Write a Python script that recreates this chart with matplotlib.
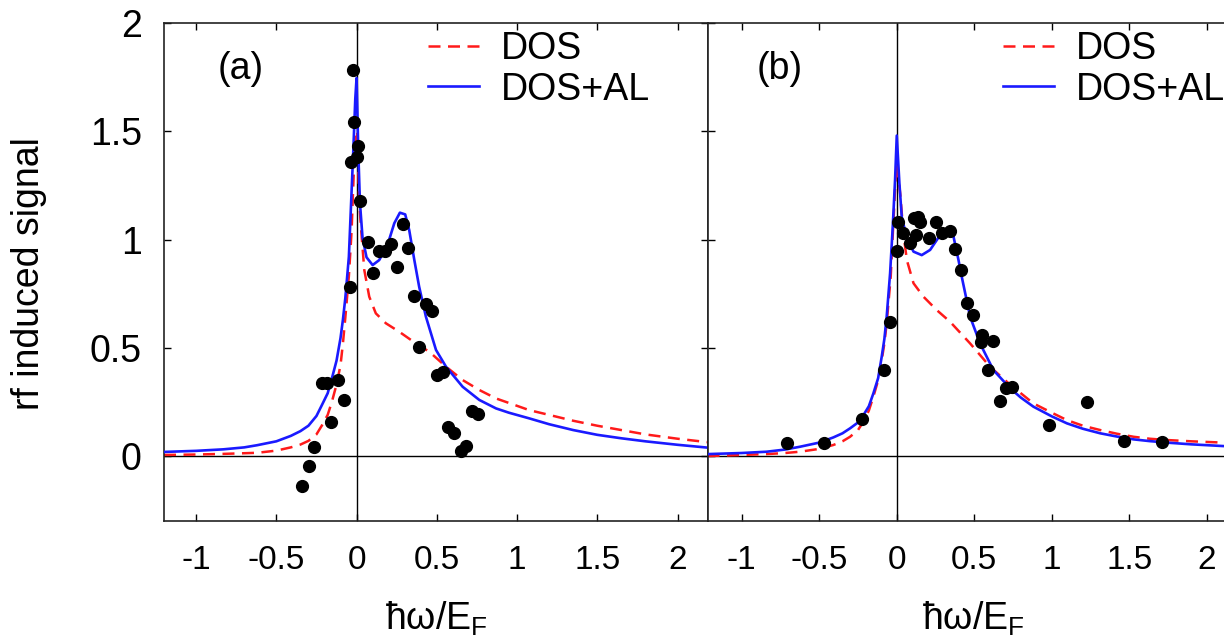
import matplotlib
matplotlib.use("Agg")
import matplotlib.pyplot as plt

plt.rcParams['font.family'] = ['Liberation Sans', 'DejaVu Sans']
plt.rcParams['mathtext.fontset'] = 'custom'
plt.rcParams['mathtext.rm'] = 'Liberation Sans'
plt.rcParams['mathtext.it'] = 'Liberation Sans:italic'

# panel (a): measured rf signal
a_exp_x = [-0.339, -0.297, -0.265, -0.217, -0.185, -0.158, -0.116, -0.080, -0.044, -0.034,
           -0.021, -0.013, 0.0, 0.011, 0.023, 0.069, 0.100, 0.141, 0.179, 0.214, 0.249,
           0.287, 0.322, 0.355, 0.391, 0.432, 0.468, 0.499, 0.536, 0.571, 0.609, 0.650,
           0.682, 0.719, 0.754]
a_exp_y = [-0.137, -0.047, 0.044, 0.338, 0.338, 0.159, 0.351, 0.257, 0.783, 1.358,
           1.782, 1.542, 1.381, 1.433, 1.178, 0.987, 0.847, 0.948, 0.948, 0.979, 0.871,
           1.070, 0.962, 0.741, 0.505, 0.702, 0.671, 0.374, 0.390, 0.135, 0.105, 0.023,
           0.046, 0.209, 0.194]

# panel (a): theory curves
a_al_x = [-1.2, -1.0, -0.83, -0.7, -0.62, -0.5, -0.41, -0.35, -0.30, -0.25, -0.217, -0.18,
          -0.154, -0.125, -0.10, -0.085, -0.07, -0.048, -0.034, -0.021, -0.008, 0.0,
          0.011, 0.021, 0.037, 0.062, 0.10, 0.141, 0.193, 0.235, 0.27, 0.303, 0.328,
          0.36, 0.39, 0.432, 0.495, 0.557, 0.661, 0.765, 0.869, 0.95, 1.076, 1.2, 1.35,
          1.5, 1.65, 1.8, 2.0, 2.2]
a_al_y = [0.019, 0.024, 0.031, 0.040, 0.050, 0.068, 0.093, 0.115, 0.140, 0.185, 0.234, 0.29,
          0.358, 0.44, 0.545, 0.63, 0.73, 0.92, 1.17, 1.40, 1.65, 1.746,
          1.40, 1.17, 1.01, 0.918, 0.882, 0.905, 0.975, 1.075, 1.124, 1.116, 1.044,
          0.905, 0.782, 0.644, 0.49, 0.413, 0.32, 0.259, 0.22, 0.20, 0.174, 0.147, 0.12,
          0.098, 0.082, 0.068, 0.052, 0.038]
a_dos_x = [-1.2, -1.0, -0.83, -0.7, -0.62, -0.5, -0.41, -0.35, -0.30, -0.25, -0.217, -0.18,
           -0.154, -0.125, -0.10, -0.085, -0.07, -0.048, -0.031, -0.017, -0.006, 0.004,
           0.017, 0.027, 0.048, 0.079, 0.12, 0.183, 0.266, 0.37, 0.453, 0.557, 0.661,
           0.765, 0.869, 0.95, 1.076, 1.2, 1.35, 1.5, 1.65, 1.8, 2.0, 2.2]
a_dos_y = [0.005, 0.007, 0.010, 0.013, 0.015, 0.025, 0.040, 0.053, 0.070, 0.10, 0.14, 0.19,
           0.25, 0.33, 0.42, 0.52, 0.64, 0.83, 1.04, 1.32, 1.50, 1.50,
           1.17, 1.06, 0.86, 0.736, 0.659, 0.613, 0.574, 0.52, 0.482, 0.413, 0.351,
           0.305, 0.266, 0.245, 0.212, 0.19, 0.163, 0.14, 0.12, 0.10, 0.08, 0.063]

# panel (b): measured rf signal
b_exp_x = [-0.71, -0.469, -0.226, -0.082, -0.043, 0.0, 0.006, 0.039, 0.086, 0.108, 0.125,
           0.140, 0.151, 0.211, 0.254, 0.290, 0.340, 0.376, 0.415, 0.452, 0.494, 0.542,
           0.548, 0.587, 0.619, 0.666, 0.705, 0.742, 0.983, 1.226, 1.466, 1.71]
b_exp_y = [0.062, 0.059, 0.169, 0.397, 0.617, 0.947, 1.082, 1.028, 0.982, 1.098, 1.021,
           1.105, 1.082, 1.008, 1.082, 1.028, 1.039, 0.955, 0.859, 0.708, 0.651, 0.528,
           0.560, 0.397, 0.530, 0.256, 0.316, 0.320, 0.143, 0.248, 0.069, 0.063]

# panel (b): theory curves
b_al_x = [-1.22, -1.0, -0.839, -0.72, -0.624, -0.5, -0.409, -0.35, -0.301, -0.25, -0.215,
          -0.18, -0.151, -0.12, -0.097, -0.08, -0.065, -0.043, -0.026, -0.011, 0.0,
          0.017, 0.032, 0.065, 0.108, 0.161, 0.215, 0.28, 0.333, 0.366, 0.398, 0.419,
          0.473, 0.537, 0.623, 0.731, 0.8, 0.881, 1.0, 1.097, 1.2, 1.312, 1.42, 1.527,
          1.63, 1.742, 1.9, 2.107, 2.2]
b_al_y = [0.009, 0.014, 0.02, 0.03, 0.043, 0.062, 0.086, 0.105, 0.128, 0.155, 0.189,
          0.23, 0.289, 0.36, 0.459, 0.54, 0.644, 0.844, 1.059, 1.275, 1.48,
          1.26, 1.105, 1.005, 0.944, 0.928, 0.952, 1.021, 1.044, 1.013, 0.905, 0.828,
          0.643, 0.52, 0.397, 0.313, 0.27, 0.228, 0.183, 0.151, 0.126, 0.105, 0.09, 0.077,
          0.069, 0.062, 0.054, 0.046, 0.043]
b_dos_x = [-1.22, -1.0, -0.839, -0.72, -0.624, -0.5, -0.409, -0.35, -0.301, -0.25, -0.215,
           -0.18, -0.151, -0.12, -0.097, -0.08, -0.065, -0.039, -0.022, -0.009, 0.0,
           0.022, 0.043, 0.065, 0.108, 0.172, 0.258, 0.344, 0.473, 0.602, 0.71, 0.8,
           0.881, 1.0, 1.097, 1.2, 1.312, 1.42, 1.527, 1.63, 1.742, 1.9, 2.107, 2.2]
b_dos_y = [0.0, 0.005, 0.009, 0.014, 0.02, 0.033, 0.051, 0.068, 0.089, 0.12, 0.159,
           0.21, 0.274, 0.35, 0.443, 0.52, 0.613, 0.828, 1.075, 1.26, 1.35,
           1.213, 1.028, 0.905, 0.798, 0.736, 0.674, 0.62, 0.52, 0.412, 0.343, 0.29,
           0.243, 0.2, 0.166, 0.14, 0.12, 0.103, 0.089, 0.08, 0.074, 0.068, 0.062, 0.06]

xticks = [-1, -0.5, 0, 0.5, 1, 1.5, 2]
xticklabels = ['-1', '-0.5', '0', '0.5', '1', '1.5', '2']
yticks = [0, 0.5, 1, 1.5, 2]
yticklabels = ['0', '0.5', '1', '1.5', '2']

W, H = 1224, 639
fig = plt.figure(figsize=(W / 100, H / 100), dpi=100)


def px_box(x0, x1, ytop, ybot):
    return [x0 / W, 1 - ybot / H, (x1 - x0) / W, (ybot - ytop) / H]


ax_a = fig.add_axes(px_box(164, 708, 23, 521))
ax_b = fig.add_axes(px_box(708, 1238, 23, 521))


def draw_panel(ax, ex, ey, alx, aly, dx, dy, xlim, show_y):
    ax.axhline(0, color='black', lw=1.0, zorder=1)
    ax.axvline(0, color='black', lw=1.0, zorder=1)
    ax.plot(dx, dy, color='#ff1a1a', lw=1.8, dashes=(4.8, 3.0), label='DOS', zorder=2)
    ax.plot(alx, aly, color='#1a1aff', lw=1.9, label='DOS+AL', zorder=3)
    ax.plot(ex, ey, 'o', color='black', ms=8.5, zorder=4)
    ax.set_xlim(*xlim)
    ax.set_ylim(-0.3, 2.0)
    ax.set_xticks(xticks)
    ax.set_xticklabels(xticklabels)
    ax.set_yticks(yticks)
    ax.set_yticklabels(yticklabels if show_y else [])
    ax.tick_params(direction='in', length=5, width=1.0, top=True, right=True,
                   colors='black')
    ax.tick_params(axis='x', labelsize=24, pad=17)
    ax.tick_params(axis='y', labelsize=27, pad=16)
    for sp in ax.spines.values():
        sp.set_linewidth(1.2)
        sp.set_color('#222222')


draw_panel(ax_a, a_exp_x, a_exp_y, a_al_x, a_al_y, a_dos_x, a_dos_y, (-1.2, 2.19), True)
draw_panel(ax_b, b_exp_x, b_exp_y, b_al_x, b_al_y, b_dos_x, b_dos_y, (-1.217, 2.2), False)

for ax, hx in ((ax_a, 428), (ax_b, 1003)):
    ax.legend(loc='upper left', bbox_to_anchor=(hx / W, 1 - 31 / H),
              bbox_transform=fig.transFigure, frameon=False, fontsize=27,
              handlelength=1.35, handletextpad=0.6, labelspacing=0.12,
              borderpad=0, borderaxespad=0)

fig.text(241 / W, 1 - 69 / H, '(a)', fontsize=27, ha='center', va='center')
fig.text(780 / W, 1 - 69 / H, '(b)', fontsize=27, ha='center', va='center')

fig.text(29 / W, 1 - 274 / H, 'rf induced signal', fontsize=27, rotation=90,
         ha='center', va='center')
fig.text(436 / W, 1 - 630 / H, 'ħω/E$_\\mathrm{F}$', fontsize=27, ha='center',
         va='baseline')
fig.text(973 / W, 1 - 630 / H, 'ħω/E$_\\mathrm{F}$', fontsize=27, ha='center',
         va='baseline')

fig.savefig('out.png', dpi=100)
